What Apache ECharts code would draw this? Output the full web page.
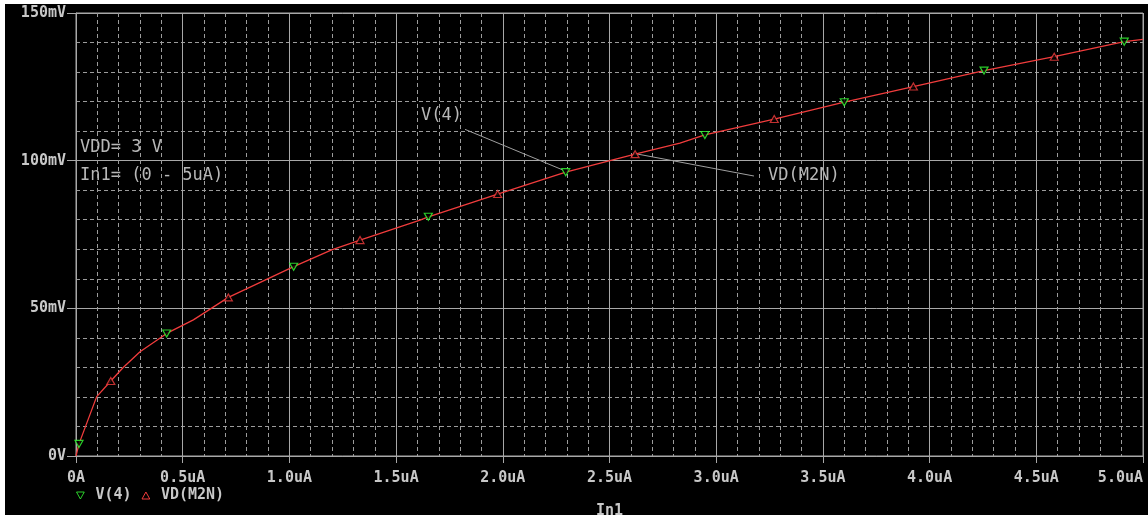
<!DOCTYPE html>
<html>
<head>
<meta charset="utf-8">
<script src="https://cdn.jsdelivr.net/npm/echarts@6/dist/echarts.min.js"></script>
<style>
html,body{margin:0;padding:0;background:#ffffff;width:1148px;height:518px;overflow:hidden;}
#chart{position:absolute;left:5px;top:4px;width:1143px;height:511px;background:#000;}
</style>
</head>
<body>
<div id="chart"></div>
<script>
// Sweep current In1 (uA) and node voltage (mV)
const currentUA = [0, 0.014, 0.097, 0.163, 0.22, 0.30, 0.425, 0.55, 0.714, 1.02, 1.198, 1.331, 1.612, 1.651, 1.976, 2.295, 2.502, 2.62, 2.83, 2.947, 3.272, 3.6, 3.924, 4.255, 4.584, 4.912, 5.0];
const voltageMV = [0, 4.1, 20.1, 25.4, 29.9, 35.3, 41.5, 46.1, 53.7, 64.1, 69.8, 73.1, 79.9, 81.0, 88.7, 96.1, 100.0, 102.2, 105.9, 108.7, 114.1, 119.8, 125.1, 130.5, 135.2, 140.3, 141.1];

// Marker positions of the two traces
const v4MarkX = [0.014, 0.425, 1.02, 1.651, 2.295, 2.947, 3.6, 4.255, 4.912];
const v4MarkY = [4.1, 41.5, 64.1, 81.0, 96.1, 108.7, 119.8, 130.5, 140.3];
const vdMarkX = [0.163, 0.714, 1.331, 1.976, 2.62, 3.272, 3.924, 4.584];
const vdMarkY = [25.4, 53.7, 73.1, 88.7, 102.2, 114.1, 125.1, 135.2];

// Leader lines of the trace labels (data coords)
const v4LeaderX = [1.823, 2.283];
const v4LeaderY = [110.6, 96.8];
const vdLeaderX = [2.612, 3.177];
const vdLeaderY = [102.5, 94.8];

// Tick labels
const xTickValues = [0, 0.5, 1.0, 1.5, 2.0, 2.5, 3.0, 3.5, 4.0, 4.5, 5.0];
const xTickLabels = ['0A', '0.5uA', '1.0uA', '1.5uA', '2.0uA', '2.5uA', '3.0uA', '3.5uA', '4.0uA', '4.5uA', '5.0uA'];
const yTickValues = [0, 50, 100, 150];
const yTickLabels = ['0V', '50mV', '100mV', '150mV'];

const zip = (a, b) => a.map((v, i) => [v, b[i]]);
const curve = zip(currentUA, voltageMV);

const GRAY_SOLID = '#a8a8a8';
const GRAY_DASH = '#9c9c9c';
const TEXT = '#c8c8c8';
const RED = '#f03c3c';
const GREEN = '#34ff34';
const MONO = '"DejaVu Sans Mono", "Liberation Mono", monospace';

function lookup(vals, labels, v) {
  for (let i = 0; i < vals.length; i++) if (Math.abs(vals[i] - v) < 1e-6) return labels[i];
  return '';
}

const chart = echarts.init(document.getElementById('chart'), null, {renderer: 'canvas'});
chart.setOption({
  backgroundColor: '#000',
  animation: false,
  grid: {left: 71, right: 5, top: 9, bottom: 59, show: true, borderColor: GRAY_SOLID, borderWidth: 1,
    backgroundColor: '#000', containLabel: false, outerBoundsMode: 'none'},
  legend: {
    left: 71, top: 484, padding: 0,
    itemWidth: 10, itemHeight: 7, itemGap: 10,
    textStyle: {color: TEXT, fontFamily: MONO, fontWeight: 'bold', fontSize: 15, padding: [0, 0, 0, 5]},
    data: [
      {name: 'V(4)', icon: 'path://M0,0 L10,0 L5,9 Z', itemStyle: {color: '#000', borderColor: GREEN, borderWidth: 1}},
      {name: 'VD(M2N)', icon: 'path://M5,0 L10,9 L0,9 Z', itemStyle: {color: '#000', borderColor: RED, borderWidth: 1}}
    ]
  },
  xAxis: {
    type: 'value', min: 0, max: 5, interval: 0.5,
    name: 'In1', nameLocation: 'middle', nameGap: 48,
    nameTextStyle: {color: TEXT, fontFamily: MONO, fontWeight: 'bold', fontSize: 15},
    axisLine: {show: true, lineStyle: {color: GRAY_SOLID, width: 1}},
    axisTick: {show: true, length: 7, lineStyle: {color: GRAY_SOLID}},
    axisLabel: {color: TEXT, fontFamily: MONO, fontWeight: 'bold', fontSize: 15, margin: 15,
      alignMaxLabel: 'right',
      formatter: v => lookup(xTickValues, xTickLabels, v)},
    splitLine: {show: true, lineStyle: {color: GRAY_SOLID, width: 1}},
    minorTick: {show: false, splitNumber: 5},
    minorSplitLine: {show: true, lineStyle: {color: GRAY_DASH, width: 1, type: [4, 3]}}
  },
  yAxis: {
    type: 'value', min: 0, max: 150, interval: 50,
    axisLine: {show: true, lineStyle: {color: GRAY_SOLID, width: 1}},
    axisTick: {show: true, length: 9, lineStyle: {color: GRAY_SOLID}},
    axisLabel: {color: TEXT, fontFamily: MONO, fontWeight: 'bold', fontSize: 15, margin: 10,
      formatter: v => lookup(yTickValues, yTickLabels, v)},
    splitLine: {show: true, lineStyle: {color: GRAY_SOLID, width: 1}},
    minorTick: {show: false, splitNumber: 5},
    minorSplitLine: {show: true, lineStyle: {color: GRAY_DASH, width: 1, type: [4, 3]}}
  },
  series: [
    {name: 'VD(M2N)', type: 'line', data: curve, showSymbol: false, symbol: 'none',
      lineStyle: {color: RED, width: 1.3}, itemStyle: {color: RED}, z: 4},
    {name: 'V(4)', type: 'scatter', data: zip(v4MarkX, v4MarkY), symbol: 'triangle', symbolRotate: 180,
      symbolSize: [8, 7], itemStyle: {color: '#000', borderColor: GREEN, borderWidth: 1.2}, z: 6},
    {name: 'VD(M2N)', type: 'scatter', data: zip(vdMarkX, vdMarkY), symbol: 'triangle',
      symbolSize: [8, 7], itemStyle: {color: '#000', borderColor: RED, borderWidth: 1.2}, z: 6},
    {name: 'lead1', type: 'line', data: zip(v4LeaderX, v4LeaderY), symbol: 'none', silent: true,
      lineStyle: {color: '#a0a0a0', width: 1}, z: 5},
    {name: 'lead2', type: 'line', data: zip(vdLeaderX, vdLeaderY), symbol: 'none', silent: true,
      lineStyle: {color: '#a0a0a0', width: 1}, z: 2}
  ],
  graphic: [
    {type: 'text', left: 75, top: 135, style: {text: 'VDD= 3 V', fill: '#b8b8b8', font: '17px ' + MONO}},
    {type: 'text', left: 75, top: 163, style: {text: 'In1= (0 - 5uA)', fill: '#b8b8b8', font: '17px ' + MONO}},
    {type: 'text', left: 416, top: 103, style: {text: 'V(4)', fill: '#b8b8b8', font: '17px ' + MONO}},
    {type: 'text', left: 763, top: 163, style: {text: 'VD(M2N)', fill: '#b8b8b8', font: '17px ' + MONO}}
  ]
});
</script>
</body>
</html>
